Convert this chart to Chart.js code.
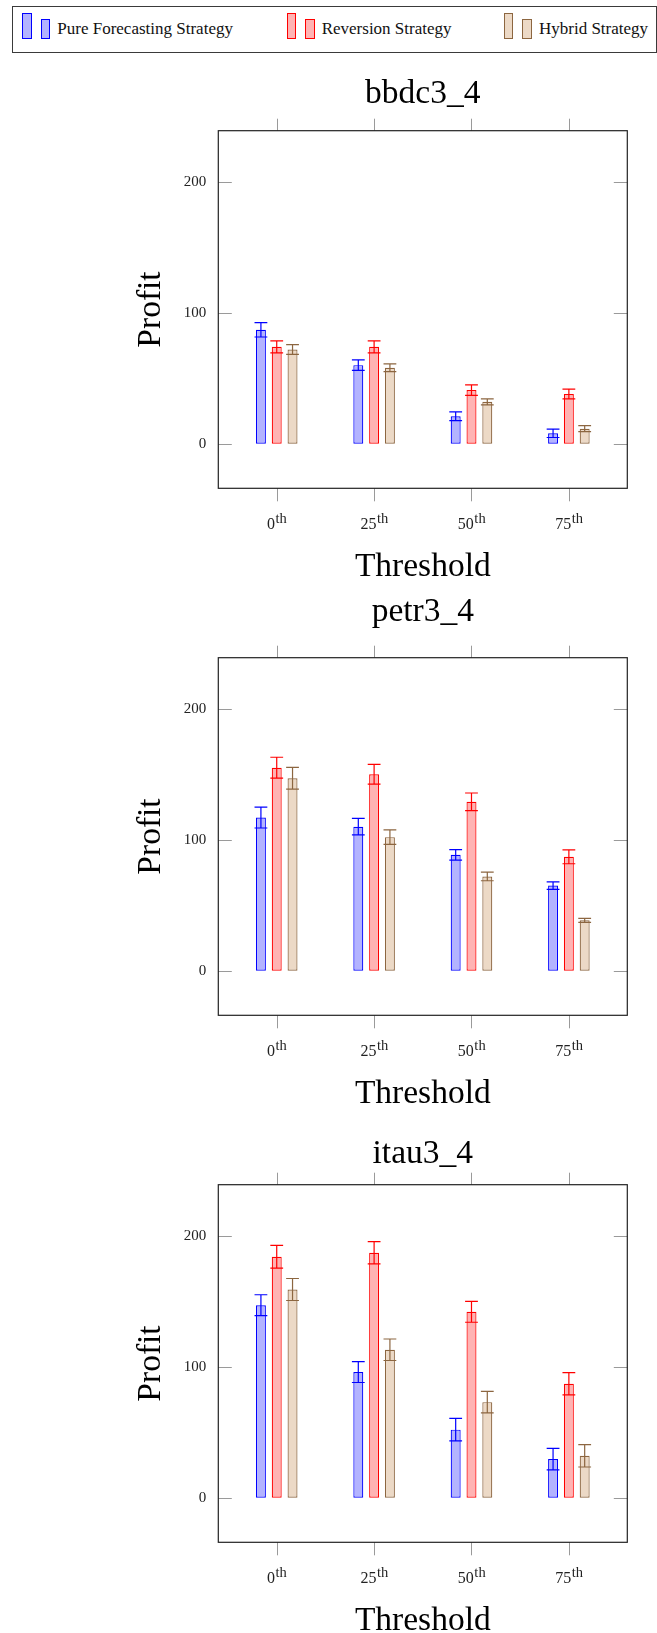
<!DOCTYPE html>
<html>
<head>
<meta charset="utf-8">
<script src="https://cdn.jsdelivr.net/npm/chart.js@4.4.1/dist/chart.umd.min.js"></script>
<style>
  html, body { margin:0; padding:0; background:#fff; width:657px; height:1633px; overflow:hidden; }
  .abs { position:absolute; }
  #legendBox { left:12px; top:5.5px; width:644.5px; height:47px; border:1.2px solid #3a3a3a; box-sizing:border-box; }
  .sw { position:absolute; box-sizing:border-box; border-width:1.3px; border-style:solid; }
  .lt { position:absolute; font-family:"Liberation Serif", serif; font-size:17px; line-height:20px; color:#111; white-space:nowrap; top:19.3px; }
  .panel { position:absolute; left:0; width:657px; height:527px; }
</style>
</head>
<body>
<div id="legendBox" class="abs"></div>
<div id="legendItems"></div>
<div class="panel" style="top:60px"><canvas id="c0" width="657" height="527"></canvas></div>
<div class="panel" style="top:587px"><canvas id="c1" width="657" height="527"></canvas></div>
<div class="panel" style="top:1114px"><canvas id="c2" width="657" height="527"></canvas></div>
<script>
// ---------------- data ----------------
const categories = ['0', '25', '50', '75'];
const categorySuffix = 'th';
const yTicks = [0, 100, 200];
const seriesNames = ['Pure Forecasting Strategy', 'Reversion Strategy', 'Hybrid Strategy'];
const panelTitles = ['bbdc3_4', 'petr3_4', 'itau3_4'];

// bbdc3_4
const bbdcPure = [87, 60, 21, 8];
const bbdcPureErr = [5.5, 4, 3.3, 3.2];
const bbdcReversion = [74, 74, 41, 38];
const bbdcReversionErr = [4.6, 4.6, 4, 3.7];
const bbdcHybrid = [72, 58, 32, 11.5];
const bbdcHybridErr = [3.7, 3, 2.3, 2.3];

// petr3_4
const petrPure = [117, 110, 88.5, 65];
const petrPureErr = [8, 6.3, 4, 2.8];
const petrReversion = [155, 150, 129, 87];
const petrReversionErr = [8, 7.5, 6.7, 5.3];
const petrHybrid = [147, 102, 72, 38.5];
const petrHybridErr = [8.3, 5.5, 3.3, 1.5];

// itau3_4
const itauPure = [147, 96, 52, 29.5];
const itauPureErr = [8, 8, 8.6, 8.2];
const itauReversion = [184, 187, 142, 87];
const itauReversionErr = [8.7, 8.5, 8, 8.5];
const itauHybrid = [159, 113, 73, 32];
const itauHybridErr = [8.4, 8.2, 8.2, 8.5];

// ---------------- styles ----------------
const fills = ['rgb(179,179,255)', 'rgb(255,179,179)', 'rgb(236,217,198)'];
const strokes = ['rgb(0,0,255)', 'rgb(255,0,0)', 'rgb(140,102,64)'];
const FONT = '"Liberation Serif", serif';

// ---------------- legend (HTML) ----------------
(function buildLegend() {
  const host = document.getElementById('legendItems');
  const bigX = [22, 286.7, 503.7];
  const smallX = [40.7, 305, 522.3];
  const textX = [57.3, 321.7, 539];
  seriesNames.forEach((name, i) => {
    const big = document.createElement('div');
    big.className = 'sw';
    Object.assign(big.style, { left: bigX[i] + 'px', top: '12.7px', width: '9.6px', height: '26px',
      background: fills[i], borderColor: strokes[i] });
    const small = document.createElement('div');
    small.className = 'sw';
    Object.assign(small.style, { left: smallX[i] + 'px', top: '19.3px', width: '9.6px', height: '19.4px',
      background: fills[i], borderColor: strokes[i] });
    const t = document.createElement('div');
    t.className = 'lt';
    t.style.left = textX[i] + 'px';
    t.textContent = name;
    host.appendChild(big); host.appendChild(small); host.appendChild(t);
  });
})();

// ---------------- plugins ----------------
const errorBarPlugin = {
  id: 'errorBars',
  afterDatasetsDraw(chart) {
    const { ctx } = chart;
    const y = chart.scales.y;
    chart.data.datasets.forEach((ds, di) => {
      const meta = chart.getDatasetMeta(di);
      ctx.save();
      ctx.strokeStyle = ds.borderColor;
      ctx.lineWidth = 1.2;
      meta.data.forEach((bar, j) => {
        const v = ds.data[j].y, e = ds.errors[j];
        const yt = y.getPixelForValue(v + e), yb = y.getPixelForValue(v - e);
        const half = 6.4;
        ctx.beginPath();
        ctx.moveTo(bar.x, yt); ctx.lineTo(bar.x, yb);
        ctx.moveTo(bar.x - half, yt); ctx.lineTo(bar.x + half, yt);
        ctx.moveTo(bar.x - half, yb); ctx.lineTo(bar.x + half, yb);
        ctx.stroke();
      });
      ctx.restore();
    });
  }
};

const framePlugin = {
  id: 'frame',
  afterDraw(chart) {
    const { ctx, chartArea: { left, right, top, bottom } } = chart;
    const x = chart.scales.x, y = chart.scales.y;
    ctx.save();
    ctx.strokeStyle = '#9a9a9a';
    ctx.lineWidth = 1;
    ctx.beginPath();
    x.ticks.forEach(t => {
      const px = Math.round(x.getPixelForValue(t.value)) + 0.5;
      ctx.moveTo(px, top - 12); ctx.lineTo(px, top);
      ctx.moveTo(px, bottom); ctx.lineTo(px, bottom + 13);
    });
    y.ticks.forEach(t => {
      const py = Math.round(y.getPixelForValue(t.value)) + 0.5;
      ctx.moveTo(left, py); ctx.lineTo(left + 13.5, py);
      ctx.moveTo(right - 13.5, py); ctx.lineTo(right, py);
    });
    ctx.stroke();
    ctx.strokeStyle = '#222';
    ctx.lineWidth = 1.2;
    ctx.strokeRect(left, top, right - left, bottom - top);
    // category tick labels with superscript suffix
    ctx.fillStyle = '#222';
    ctx.textBaseline = 'alphabetic';
    ctx.textAlign = 'left';
    const numFont = '16px ' + FONT, supFont = '14.5px ' + FONT;
    x.ticks.forEach((t, i) => {
      const px = x.getPixelForValue(t.value);
      const label = categories[i];
      ctx.font = numFont;
      const w1 = ctx.measureText(label).width;
      ctx.font = supFont;
      const w2 = ctx.measureText(categorySuffix).width;
      const start = px - (w1 + w2) / 2;
      ctx.font = numFont;
      ctx.fillText(label, start, bottom + 41);
      ctx.font = supFont;
      ctx.fillText(categorySuffix, start + w1 + 0.5, bottom + 35);
    });
    ctx.restore();
  }
};

// ---------------- charts ----------------
const titlePads = [{ top: 14.2, bottom: 16.3 }, { top: 4.9, bottom: 25.6 }, { top: 20.5, bottom: 10.0 }];

function makeChart(id, k, values, errors) {
  return new Chart(document.getElementById(id), {
    type: 'bar',
    data: {
      datasets: values.map((vals, s) => ({
        label: seriesNames[s],
        data: vals.map((v, i) => ({ x: i, y: v })),
        errors: errors[s],
        backgroundColor: fills[s],
        borderColor: strokes[s],
        borderWidth: 1.2,
        borderSkipped: false,
        categoryPercentage: 0.487,
        barPercentage: 0.63
      }))
    },
    options: {
      responsive: false,
      animation: false,
      devicePixelRatio: 1,
      layout: { padding: { left: 0, right: 29.7, top: 0, bottom: 0 } },
      plugins: {
        legend: { display: false },
        tooltip: { enabled: false },
        title: {
          display: true, text: panelTitles[k], color: '#000', fullSize: false,
          font: { size: 33.5, family: FONT, weight: 'normal', lineHeight: 1.2 },
          padding: titlePads[k]
        }
      },
      scales: {
        x: {
          type: 'linear', min: -0.6, max: 3.6, offset: false,
          grid: { display: false, drawTicks: false }, border: { display: false },
          ticks: { display: false },
          afterBuildTicks: s => { s.ticks = categories.map((c, i) => ({ value: i })); },
          afterFit: s => { s.height = 98.7; },
          title: {
            display: true, text: 'Threshold', color: '#000',
            font: { size: 33.5, family: FONT, weight: 'normal', lineHeight: 1.0 },
            padding: { top: 0, bottom: 2.85 }
          }
        },
        y: {
          min: -34, max: 239,
          grid: { display: false, drawTicks: false }, border: { display: false },
          ticks: { padding: 12, color: '#222', font: { size: 15, family: FONT } },
          afterBuildTicks: s => { s.ticks = yTicks.map(v => ({ value: v })); },
          afterFit: s => { s.width = 218.3; },
          title: {
            display: true, text: 'Profit', color: '#000',
            font: { size: 33.5, family: FONT, weight: 'normal', lineHeight: 1.2 },
            padding: { top: 131.5, bottom: 0 }
          }
        }
      }
    },
    plugins: [errorBarPlugin, framePlugin]
  });
}

makeChart('c0', 0,
  [bbdcPure, bbdcReversion, bbdcHybrid],
  [bbdcPureErr, bbdcReversionErr, bbdcHybridErr]);
makeChart('c1', 1,
  [petrPure, petrReversion, petrHybrid],
  [petrPureErr, petrReversionErr, petrHybridErr]);
makeChart('c2', 2,
  [itauPure, itauReversion, itauHybrid],
  [itauPureErr, itauReversionErr, itauHybridErr]);
</script>
</body>
</html>
